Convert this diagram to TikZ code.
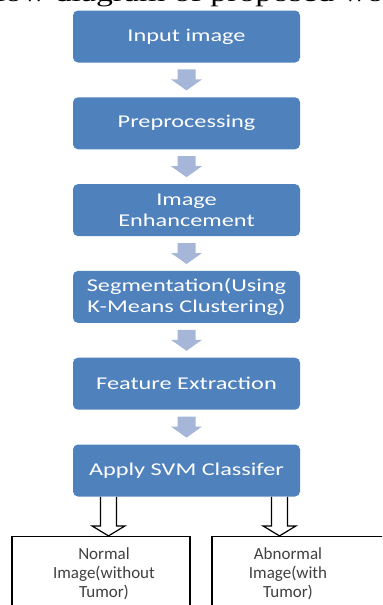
\documentclass[tikz,border=0pt]{standalone}
\usepackage{fontspec}
\setmainfont{Carlito}
\newfontfamily\boxfamily[FakeStretch=1.35]{Carlito}
\newfontfamily\capfamily[FakeStretch=1.35]{Liberation Serif}
\newcommand\boxfont{\boxfamily\fontsize{9}{10.5}\selectfont}
\newcommand\resfont{\fontsize{8.5}{9.5}\selectfont}
\newcommand\capfont{\capfamily\fontsize{12.5}{14}\selectfont}
\usetikzlibrary{positioning,calc}
\definecolor{boxblue}{RGB}{79,129,189}
\definecolor{arrowblue}{RGB}{166,182,216}
\definecolor{textgrey}{RGB}{64,64,64}

\tikzset{
	stepbox/.style={fill=boxblue, rounded corners=2.5pt, minimum width=113.5pt, minimum height=26pt,
		inner sep=0pt, text=white, font=\boxfont, align=center},
	resultbox/.style={draw=black, line width=0.7pt, fill=white, minimum height=45pt, anchor=north},
	resulttext/.style={font=\resfont, text=textgrey, align=center, inner sep=0pt, anchor=north},
	flowarrow/.pic={\fill[arrowblue] (-9,0) -- (9,0) -- (9,10) -- (15.5,10) -- (0,21) -- (-15.5,10) -- (-9,10) -- cycle;},
	outarrow/.pic={
		\fill[white] (-8,0) -- (8,0) -- (8,29) -- (16.5,29) -- (0,39) -- (-16.5,29) -- (-8,29) -- cycle;
		\draw[line width=0.6pt, line join=miter] (-8,0) -- (-8,29) -- (-16.5,29) -- (0,39) -- (16.5,29) -- (8,29) -- (8,0);}
}

\begin{document}
\begin{tikzpicture}[x=0.5pt,y=-0.5pt,node distance=17pt]
		\useasboundingbox (0,0) rectangle (382,605);
		\clip (0,0) rectangle (382,605);
		\node[font=\capfont, anchor=base, inner sep=0pt] (caption) at (194.5,2) {Flow diagram of proposed work};
		% main steps
		\node[stepbox] (input) at (186.5,36.5) {Input image};
		\node[stepbox, below=of input] (prep) {Preprocessing};
		\node[stepbox, below=of prep] (enh) {Image\\Enhancement};
		\node[stepbox, below=of enh] (seg) {Segmentation(Using\\K-Means Clustering)};
		\node[stepbox, below=of seg] (feat) {Feature Extraction};
		\node[stepbox, below=of feat] (svm) {Apply SVM Classifer};
		\foreach \a/\b in {input/prep,prep/enh,enh/seg,seg/feat,feat/svm}
			\pic at ($(\a.south)!0.5!(\b.north)+(0,-10.5)$) {flowarrow};
		% results
		\pic at ([xshift=-39pt]svm.south) {outarrow};
		\pic at ([xshift=46.5pt]svm.south) {outarrow};
		\node[resultbox, minimum width=89pt] (normal) at ([yshift=-19.5pt]svm.south -| 101,0) {};
		\node[resultbox, minimum width=88pt] (abnormal) at ([yshift=-19.5pt]svm.south -| 300,0) {};
		\node[resulttext] (normalText) at ([xshift=1.5pt,yshift=-5.5pt]normal.north) {Normal\\Image(without\\Tumor)};
		\node[resulttext] (abnormalText) at ([xshift=-6pt,yshift=-5.5pt]abnormal.north) {Abnormal\\Image(with\\Tumor)};
\end{tikzpicture}
\end{document}
